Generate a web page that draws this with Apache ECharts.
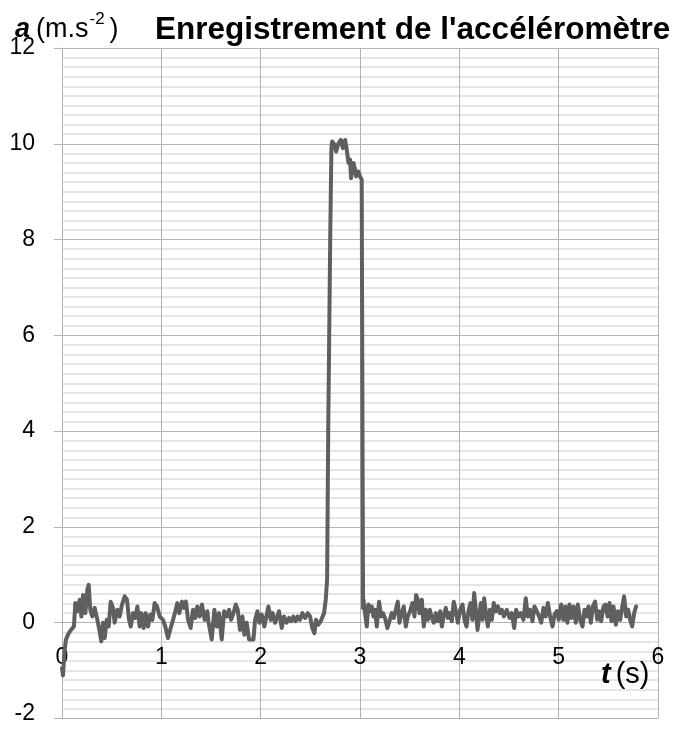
<!DOCTYPE html>
<html>
<head>
<meta charset="utf-8">
<script src="https://cdn.jsdelivr.net/npm/echarts@6/dist/echarts.min.js"></script>
<style>
html,body{margin:0;padding:0;background:#fff;}
#chart{width:683px;height:731px;}
</style>
</head>
<body>
<div id="chart"></div>
<script>
// Axis ticks
const xTicks = [0, 1, 2, 3, 4, 5, 6];
const yTicks = [-2, 0, 2, 4, 6, 8, 10, 12];

// Accelerometer record: [t (s), a (m.s-2)]
const restBefore = [
  [0,-0.95],[0.01,-1.1],[0.025,-0.6],[0.04,-0.35],[0.06,-0.25],[0.08,-0.18],[0.1,-0.15],[0.12,-0.08],
  [0.134,0.41],[0.154,0.24],[0.178,0.48],[0.195,0.13],[0.212,0.58],[0.235,0.2],[0.255,0.69],[0.269,0.79],
  [0.285,0.27],[0.305,0.13],[0.329,0.31],[0.356,0.06],[0.379,-0.18],[0.396,-0.39],[0.413,0.0],[0.43,-0.32],
  [0.45,0.06],[0.47,-0.08],[0.49,0.44],[0.513,0.31],[0.53,0.0],[0.557,0.27],[0.58,0.13],[0.604,0.38],
  [0.631,0.55],[0.654,0.48],[0.675,0.06],[0.692,-0.08],[0.715,0.2],[0.738,0.1],[0.759,0.34],[0.782,-0.08],
  [0.799,0.2],[0.822,-0.11],[0.843,0.2],[0.866,-0.08],[0.889,0.17],[0.91,0.06],[0.933,0.41],[0.957,0.34],
  [0.984,0.13],[1.017,0.06],[1.04,-0.08],[1.067,-0.32],[1.094,-0.11],[1.118,0.06],[1.141,0.24],[1.161,0.41],
  [1.181,0.2],[1.208,0.44],[1.228,0.31],[1.248,0.44],[1.269,0.06],[1.295,-0.11],[1.319,0.27],[1.342,0.1],
  [1.362,0.34],[1.386,0.13],[1.409,0.38],[1.436,0.06],[1.463,0.24],
  [1.474,0.03],[1.507,-0.35],[1.534,0.27],[1.558,-0.08],[1.581,0.2],[1.608,-0.35],[1.632,0.24],[1.659,0.13],
  [1.682,0.27],[1.702,0.06],[1.726,0.2],[1.749,0.38],[1.769,0.27],[1.792,-0.15],[1.816,0.13],[1.836,-0.25],
  [1.859,0.0],[1.883,-0.35],[1.903,-0.39],[1.927,-0.35],[1.944,0.06],[1.967,0.24],[1.987,0.0],[2.011,0.17],
  [2.037,-0.08],[2.061,0.17],[2.078,0.34],[2.101,0.06],[2.121,0.2],[2.145,0.0],[2.168,0.13],[2.185,0.24],
  [2.212,-0.11],[2.235,0.13],[2.262,0.0],[2.286,0.1],[2.306,0.03],[2.329,0.13],[2.352,0.03],[2.372,0.13],
  [2.396,0.06],[2.42,0.2],[2.447,0.1],[2.474,0.2],[2.497,0.13],[2.52,-0.11],[2.541,-0.22],[2.557,0.06],
  [2.581,-0.04],[2.604,0.03],[2.621,0.06],[2.638,0.2],[2.655,0.48]
];
const impact = [
  [2.669,0.9],[2.68,4.0],[2.70,8.0],[2.712,9.9],[2.72,10.05],[2.743,9.98],[2.76,9.84],[2.783,10.01],
  [2.807,10.08],[2.827,9.91],[2.85,10.08],[2.867,9.87],[2.884,9.6],[2.9,9.67],[2.91,9.28],[2.934,9.6],
  [2.951,9.46],[2.961,9.32],[2.984,9.42],[3.0,9.32],[3.017,9.25],[3.027,9.21]
];
const restAfter = [
  [3.031,0.3],[3.035,0.48],[3.051,0.2],[3.068,-0.08],[3.085,0.38],[3.102,0.24],[3.118,0.34],[3.135,0.13],
  [3.152,0.27],[3.169,-0.08],[3.192,0.44],[3.212,0.13],[3.232,0.2],[3.252,0.1],[3.276,-0.11],[3.296,-0.15],
  [3.32,0.2],[3.34,0.1],[3.36,0.06],[3.38,0.44],[3.397,0.0],[3.42,0.2],[3.441,0.34],[3.461,-0.08],
  [3.481,0.13],[3.504,0.24],[3.528,0.41],[3.548,0.13],[3.565,0.58],[3.582,0.48],[3.599,0.2],[3.622,0.48],
  [3.642,-0.08],[3.662,0.27],[3.683,0.06],[3.703,0.27],[3.723,0.1],[3.743,0.0],[3.763,0.2],[3.783,0.03],
  [3.807,0.24],[3.824,-0.08],[3.841,0.13],[3.864,0.31],[3.884,0.1],[3.904,0.2],[3.924,0.03],[3.944,0.44],
  [3.965,0.24],[3.985,0.0],[4.008,0.27],[4.032,0.38],[4.052,0.06],[4.072,-0.08],[4.092,0.24],[4.112,0.41],
  [4.132,0.06],[4.149,0.62],[4.166,0.27],[4.183,-0.15],[4.2,0.13],[4.217,0.41],[4.233,0.06],[4.25,0.51],
  [4.267,0.2],[4.287,-0.08],[4.307,0.27],[4.327,0.06],[4.347,0.41],[4.367,0.24],[4.388,0.34],[4.408,0.2],
  [4.428,0.27],[4.448,0.13],[4.478,0.27],[4.505,0.1],[4.528,0.2],[4.552,-0.11],[4.572,0.27],[4.595,0.13],
  [4.618,0.2],[4.645,0.06],[4.669,0.51],[4.689,0.13],[4.713,0.27],[4.736,0.03],[4.756,0.34],[4.78,0.24],
  [4.803,0.13],[4.824,0.0],[4.847,0.31],[4.87,0.13],[4.891,0.41],[4.914,0.13],[4.938,-0.08],[4.958,0.17],
  [4.981,0.24],[5.001,0.06],[5.025,0.38],[5.048,0.06],[5.068,0.34],[5.088,0.0],[5.109,0.38],[5.129,0.1],
  [5.149,0.34],[5.172,0.0],[5.193,0.38],[5.216,0.06],[5.24,-0.08],[5.26,0.27],[5.28,0.13],[5.3,0.34],
  [5.324,0.0],[5.344,0.34],[5.367,0.44],[5.388,0.06],[5.408,0.24],[5.428,0.03],[5.451,0.34],[5.472,0.38],
  [5.492,0.13],[5.512,0.41],[5.532,0.03],[5.552,0.34],[5.576,-0.04],[5.596,0.24],[5.619,0.06],[5.639,0.31],
  [5.659,0.55],[5.68,0.13],[5.7,0.27],[5.72,0.06],[5.74,-0.08],[5.76,0.2],[5.78,0.34]
];

const titleText = "Enregistrement de l'accéléromètre";
const yUnit = "(m.s";
const yUnitExp = "-2";
const xUnit = "(s)";

const FONT = "'Liberation Sans', Arial, sans-serif";
const chart = echarts.init(document.getElementById('chart'), null, {renderer: 'canvas'});
const record = restBefore.concat(impact, restAfter);

// grid geometry: x-axis labels sit just under the a = 0 line
const gridTop = 48, gridBottom = 12.5;
const plotH = 731 - gridTop - gridBottom;
const zeroOffset = -plotH * (0 - yTicks[0]) / (yTicks[yTicks.length - 1] - yTicks[0]);

chart.setOption({
  backgroundColor: '#ffffff',
  animation: false,
  title: [
    {
      text: '{a|a}{u|' + yUnit + '}{s|' + yUnitExp + '}{u|)}',
      left: 10, top: 6,
      textStyle: {
        rich: {
          a: {fontFamily: FONT, fontSize: 27, fontWeight: 'bold', fontStyle: 'italic', color: '#000', padding: [0, 6, 0, 0]},
          u: {fontFamily: FONT, fontSize: 27, fontWeight: 'normal', color: '#000'},
          s: {fontFamily: FONT, fontSize: 17, fontWeight: 'normal', color: '#000', verticalAlign: 'top', padding: [0, 5, 20, 1]}
        }
      }
    },
    {
      text: titleText,
      left: 150, top: 9,
      textStyle: {fontFamily: FONT, fontSize: 31.5, fontWeight: 'bold', color: '#000'}
    },
    {
      text: '{a|t} {u|' + xUnit + '}',
      left: 596, top: 655,
      textStyle: {
        rich: {
          a: {fontFamily: FONT, fontSize: 29, fontWeight: 'bold', fontStyle: 'italic', color: '#000'},
          u: {fontFamily: FONT, fontSize: 29, fontWeight: 'normal', color: '#000'}
        }
      }
    }
  ],
  grid: {left: 62, right: 25, top: gridTop, bottom: gridBottom, containLabel: false, outerBoundsMode: 'none'},
  xAxis: {
    type: 'value',
    position: 'bottom',
    offset: zeroOffset,
    min: xTicks[0], max: xTicks[xTicks.length - 1], interval: 1,
    axisLine: {show: true, onZero: false, lineStyle: {color: '#b3b3b3', width: 1}},
    axisTick: {show: false},
    axisLabel: {margin: 23, fontFamily: FONT, fontSize: 23, color: '#000',
      showMinLabel: true, showMaxLabel: true},
    splitLine: {show: true, lineStyle: {color: '#b3b3b3', width: 1}}
  },
  yAxis: {
    type: 'value',
    min: yTicks[0], max: yTicks[yTicks.length - 1], interval: 2,
    axisLine: {show: true, onZero: false, lineStyle: {color: '#b3b3b3', width: 1}},
    axisTick: {show: true, length: 8, lineStyle: {color: '#b3b3b3'}},
    axisLabel: {
      margin: 27, fontFamily: FONT, fontSize: 23, color: '#000',
      formatter: function (v) { return v === yTicks[0] ? '{m|' + v + '}' : String(v); },
      rich: {m: {fontFamily: FONT, fontSize: 23, color: '#000', padding: [0, 0, 10, 0]}}
    },
    splitLine: {show: true, lineStyle: {color: '#b3b3b3', width: 1}},
    minorTick: {show: false, splitNumber: 10},
    minorSplitLine: {show: true, lineStyle: {color: '#dedede', width: 1.5}}
  },
  series: [{
    type: 'line',
    data: record,
    showSymbol: false,
    symbol: 'none',
    lineStyle: {color: '#5f5f5f', width: 4, join: 'round', cap: 'round'},
    z: 5
  }]
});
</script>
</body>
</html>
